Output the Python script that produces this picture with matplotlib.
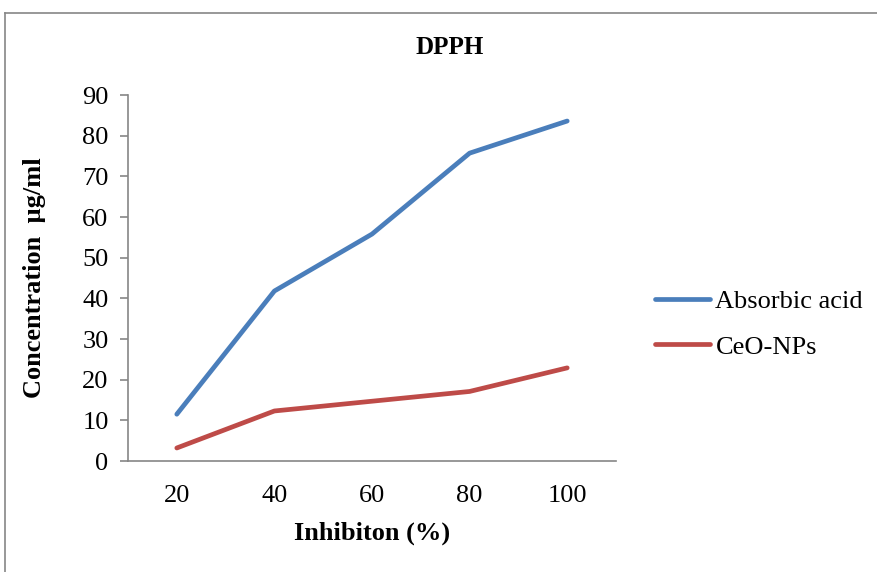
import matplotlib
matplotlib.use("Agg")
import matplotlib.pyplot as plt
from matplotlib.lines import Line2D

plt.rcParams['font.family'] = ['Liberation Serif', 'DejaVu Serif']

# data
categories = ['20', '40', '60', '80', '100']
absorbic = [11.5, 41.8, 55.8, 75.7, 83.6]
ceo_nps = [3.2, 12.3, 14.7, 17.1, 22.9]

blue = '#4A7EBB'
red = '#BE4B48'
grey = '#868686'

fig = plt.figure(figsize=(8.78, 5.72), dpi=100)

# outer chart frame (cut off on the right and bottom)
fig.add_artist(Line2D([5.5 / 878, 5.5 / 878], [0, 1 - 12.5 / 572], color=grey, lw=1.2))
fig.add_artist(Line2D([5.5 / 878, 1], [1 - 12.5 / 572, 1 - 12.5 / 572], color=grey, lw=1.2))

ax = fig.add_axes([128 / 878, 1 - 461 / 572, (616 - 128) / 878, (461 - 95) / 572])

x = range(len(categories))
ax.plot(x, absorbic, color=blue, lw=3.4, solid_capstyle='round', label='Absorbic acid')
ax.plot(x, ceo_nps, color=red, lw=3.4, solid_capstyle='round', label='CeO-NPs')

ax.set_xlim(-0.5, len(categories) - 0.5)
ax.set_ylim(0, 90)
ax.set_yticks(range(0, 91, 10))
ax.set_xticks(list(x))
ax.set_xticklabels(categories)

for s in ['top', 'right']:
    ax.spines[s].set_visible(False)
for s in ['left', 'bottom']:
    ax.spines[s].set_color(grey)
    ax.spines[s].set_linewidth(1.2)

ax.tick_params(axis='y', direction='out', length=6, width=1.2, color=grey,
               labelsize=19, pad=8)
ax.tick_params(axis='x', length=0, labelsize=19, pad=17)

ax.set_xlabel('Inhibiton (%)', fontsize=19, fontweight='bold', labelpad=11)
ax.set_ylabel('Concentration  µg/ml', fontsize=19, fontweight='bold', labelpad=26)

fig.text(450 / 878, 1 - 47 / 572, 'DPPH', ha='center', va='center',
         fontsize=18, fontweight='bold')

leg = fig.legend(loc='center left', bbox_to_anchor=(631 / 878, 1 - 324 / 572),
                 frameon=False, fontsize=19, handlelength=2.1, handletextpad=0.2,
                 labelspacing=0.85)

fig.savefig('out.png', dpi=100)
